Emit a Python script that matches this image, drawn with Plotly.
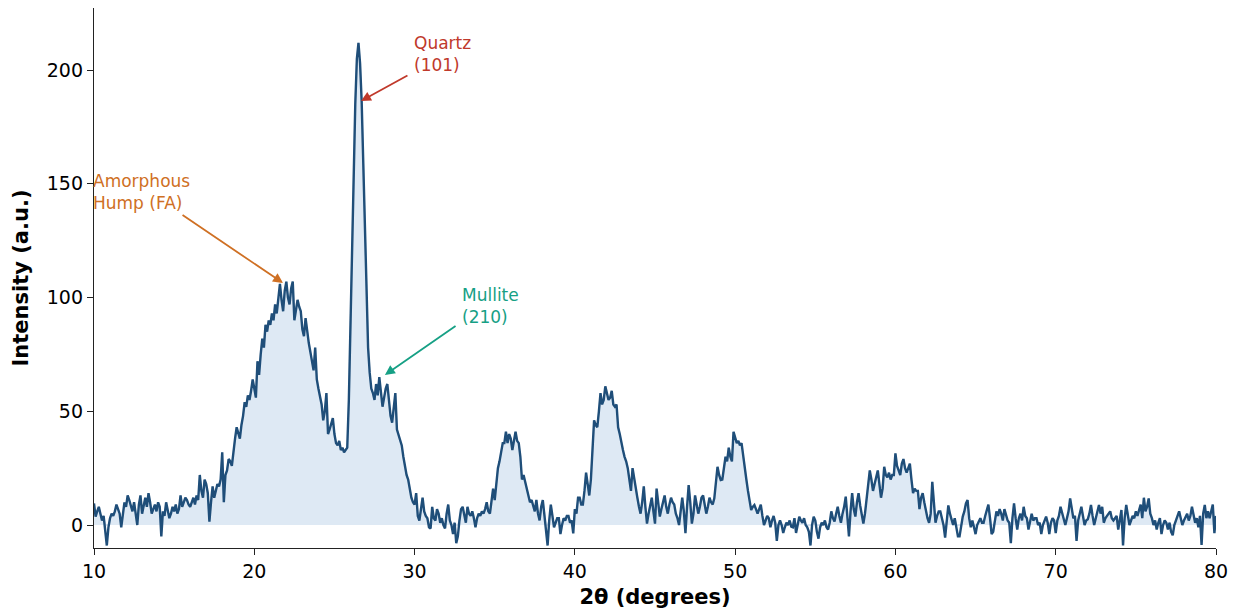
import numpy as np
import plotly.graph_objects as go

# 2-theta grid: 10.0 .. 80.0 in 0.1 degree steps
two_theta = [round(10 + 0.1 * i, 1) for i in range(701)]

intensity = [
    9.5, 3.7, 6, 8, 5, 2, 4, -2, -9, -1,
    3, 5, 4, 6, 9, 7, 5, -1, 4, 10,
    8, 13, 11, 8, 6, 10, 4, 0, 9, 13,
    5, 9, 12, 8, 14, 10, 5, 7, 9, 6,
    10, 8, -5, 6, 4, 10, 7, 3, 5, 8,
    6, 9, 5, 7, 13, 8, 10, 12, 11, 9,
    8, 10, 12, 9, 13, 11, 22, 15, 12, 20,
    18, 14, 1.5, 10, 17, 12, 15, 18, 17, 20,
    32, 10, 22, 24, 29, 28, 26, 33, 38, 43,
    40, 38, 44, 48, 54, 52, 57, 55, 59, 64,
    60, 56, 72, 66, 75, 82, 78, 88, 85, 90,
    88, 93, 90, 97, 93, 100, 106, 99, 94, 103,
    107, 100, 97, 104, 107, 90, 95, 99, 96, 94,
    86, 83, 91, 85, 80, 76, 71, 68, 78, 64,
    60, 57, 53, 46, 50, 58, 40, 42, 45, 47,
    40, 36, 35, 37, 33, 34, 32, 33, 34, 55,
    90, 122, 152, 185, 205, 212, 203, 186, 159, 130,
    98, 78, 67, 60, 58, 55, 62, 57, 65, 58,
    52, 56, 60, 62, 55, 48, 45, 52, 58, 42,
    40, 37, 35, 30, 26, 22, 20, 15, 12, 10,
    9, 14, 4, 2, 8, 12, 6, 4, 3, -1,
    -1.5, 8, 3, 2, 7, 5, 1, 3, 0, -1.5,
    5, 9, 2, 0, -4, 1, -8, -5, 2, 7,
    8, 4, 1, 8, 5, 4, 6, 3, -1, 3,
    5, 4, 6, 5, 7, 10, 6, 5, 12, 16,
    11, 17, 25, 28, 33, 36, 36, 41, 36, 40,
    38, 33, 37, 41, 37, 36, 30, 20, 22, 19,
    15, 12, 10, 11, 8, 6, 11, 5, 2, 8,
    11, 5, -1, -9, 2, 9, 4, -1, 1, 3,
    3, -4, 0, 3, 2, 4, 4, 1, 2, -3.7,
    7, 5, 12, 12, 9, 9, 15, 23, 18, 13,
    20, 34, 46, 44, 43, 50, 58, 53, 55, 61,
    58, 55, 56, 59, 53, 52, 53, 43, 40, 36,
    33, 30, 28, 25, 20, 15, 25, 20, 16, 12,
    8, 5, 10, 17, 8, 0.6, 5, 9, 12, 6,
    0.6, 16, 10, 3.7, 7, 10, 13, 8, 5, 9,
    12, 10, 9, 5, 3, 0, 6, 12, 6, -3.6,
    8, 17.6, 10, 0.6, 5, 13, 9, 5, 8, 12,
    13, 9, 5, 8, 12, 10, 9, 11.7, 18, 25.6,
    22, 19.8, 20, 26, 30, 28, 34, 30, 28, 41,
    38, 36, 37, 35, 36, 30, 24, 20, 15, 10,
    6.6, 8, 8.8, 7, 5, 7, 9, 4, 0, 2,
    4, 3, -1, 2, 4, 1, -7, 0, 2, 0,
    -3.5, -1, 1, 0, 2, -0.7, -1, 3, -3.5, 0,
    3.7, 2, 1, 3, 0, -1, -3, -9, 0, 3.7,
    2, -3, -6, -1, 1, 0, 2, -1, -2, 1,
    6, 3, 1.5, 5, 8, 4, 1, 5, 8, 12.5,
    3, -5, 6, 14, 7, 3.7, 10, 14, 8.6, 5,
    0.6, 5, 12, 18, 24, 20, 15, 18, 21, 24,
    18, 12, 16, 25.6, 22, 21, 23, 20, 22, 22,
    31.5, 26, 24, 22, 27, 29, 25, 23, 25, 27,
    20, 14, 16, 15, 15, 7, 12, 14, 10, 6,
    3, 1, 5, 19, 10, 1, 4, 6, 6, 3,
    0, -5.5, 2, 8.6, 5, 2, 0, 3, -2, -5,
    -5, 0, 3.7, 6, 9.5, 11, 3, -1, 2, -1,
    -4, 0, 2, 3, 1, 1, 4, 7, 9, 3,
    -4, -3, 2, 6, 4, 7, 5, 2, 7, 4,
    2, 1, -8, 3, 9.5, 3, -2, 3, 5, 2,
    8, 4, 3, -2, 1, 5, 2, 3, 3, 0,
    1, -4, 0, 2, 3.7, 1, -4, 1, 3, 2,
    -3.6, 2, 4, 8, 5, 2, 0, 3, 6, 11.7,
    7, 3, 4, -7, 2, 5, 8, 4, 0, 2,
    2.5, 5, 8.8, 4, 0, 3, 6, 8.8, 5, 8,
    1, 3, 4, 5, 6, 3, 2, 3, 4, -2,
    2, 6.6, -9, 3, 8.8, 5, 0, 2, 4, 3,
    6, 4, 7, 9, 3, 12, 6, 8, 11.7, 5,
    3, 0, 2, -2, 1, 3, -4, 0, 2, 1,
    -2, 1, -3, -4.5, 0, 2, 4, 6, 3, 0,
    2, 3.5, 5, 2, 4, 8, 5, 1, 3, -1,
    4, -8.8, 5, 8.8, 3, 6, 3, 6, 9, -3.6,
    4,
]

# annotations: label, text anchor (x, y), arrow tail (x, y), arrow head (x, y), colour
labels = ["Quartz<br>(101)", "Amorphous<br>Hump (FA)", "Mullite<br>(210)"]
text_pos = [(30.0, 217), (10.0, 156.5), (33.0, 106.5)]
arrow_tail = [(29.65, 198), (15.43, 136.7), (32.65, 88)]
arrow_head = [(26.66, 186.4), (21.79, 106.4), (28.15, 66)]
label_colors = ["#c0392b", "#cf7024", "#16a085"]

y_arr = np.array(intensity, dtype=float)
y_fill = np.clip(y_arr, 0, None)

fig = go.Figure()
fig.add_trace(go.Scatter(
    x=two_theta, y=y_fill, mode="lines", fill="tozeroy",
    fillcolor="rgba(200,218,237,0.6)",
    line=dict(color="rgba(190,210,235,0.8)", width=1.5),
    hoverinfo="skip", showlegend=False))
fig.add_trace(go.Scatter(
    x=two_theta, y=intensity, mode="lines",
    line=dict(color="#1f4e79", width=2.4), showlegend=False))

font = "DejaVu Sans, sans-serif"
annotations = []
for lab, tp, tail, head, col in zip(labels, text_pos, arrow_tail, arrow_head, label_colors):
    annotations.append(dict(
        x=head[0], y=head[1], ax=tail[0], ay=tail[1], xref="x", yref="y",
        axref="x", ayref="y", text="", showarrow=True, arrowhead=2,
        arrowsize=1.1, arrowwidth=1.8, arrowcolor=col))
    annotations.append(dict(
        x=tp[0], y=tp[1], xref="x", yref="y", text=lab, showarrow=False,
        xanchor="left", yanchor="top", align="left", xshift=-3,
        font=dict(family=font, size=17, color=col)))

fig.update_layout(
    width=1236, height=611,
    margin=dict(l=94, r=20, t=8, b=63),
    plot_bgcolor="white", paper_bgcolor="white",
    font=dict(family=font, size=19, color="black"),
    annotations=annotations,
    xaxis=dict(
        range=[10, 80], tickmode="array", tickvals=[10, 20, 30, 40, 50, 60, 70, 80],
        showgrid=False, zeroline=False, showline=True, linecolor="#222",
        linewidth=1.3, ticks="outside", ticklen=6, tickwidth=1.2, tickcolor="#222",
        tickfont=dict(size=19), automargin=False,
        title=dict(text="<b>2θ (degrees)</b>", font=dict(size=21), standoff=8)),
    yaxis=dict(
        range=[-10.1, 227.3], tickmode="array", tickvals=[0, 50, 100, 150, 200],
        showgrid=False, zeroline=False, showline=True, linecolor="#222",
        linewidth=1.3, ticks="outside", ticklen=6, tickwidth=1.2, tickcolor="#222",
        tickfont=dict(size=19), automargin=False,
        title=dict(text="<b>Intensity (a.u.)</b>", font=dict(size=21), standoff=12)),
)

fig.write_html("out.html")
